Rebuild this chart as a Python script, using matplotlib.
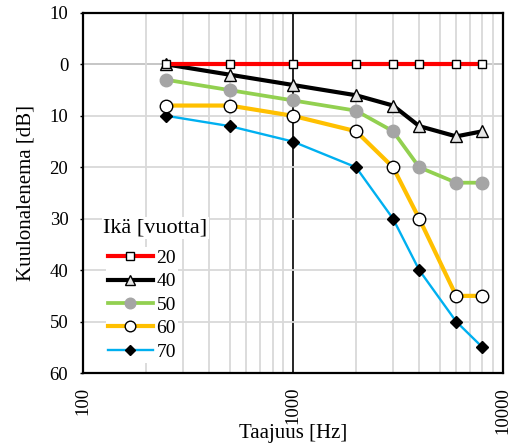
import numpy as np
import matplotlib.pyplot as plt
from matplotlib.ticker import FuncFormatter, FixedLocator, LogLocator, NullFormatter

plt.rcParams['font.family'] = ['Liberation Serif', 'DejaVu Serif']

freq = [250, 500, 1000, 2000, 3000, 4000, 6000, 8000]
ages = ["20", "40", "50", "60", "70"]
loss_20 = [0, 0, 0, 0, 0, 0, 0, 0]
loss_40 = [0, 2, 4, 6, 8, 12, 14, 13]
loss_50 = [3, 5, 7, 9, 13, 20, 23, 23]
loss_60 = [8, 8, 10, 13, 20, 30, 45, 45]
loss_70 = [10, 12, 15, 20, 30, 40, 50, 55]

fig = plt.figure(figsize=(5.12, 4.47), dpi=100)
ax = fig.add_axes([0.162, 0.1655, 0.820, 0.8055])

ax.set_xscale('log')
ax.set_xlim(100, 10000)
ax.set_ylim(60, -10)

# grid
ax.xaxis.set_minor_locator(LogLocator(base=10, subs=np.arange(2, 10)))
ax.xaxis.set_minor_formatter(NullFormatter())
ax.grid(True, which='minor', axis='x', color='#d9d9d9', lw=1.3, zorder=0)
ax.grid(True, which='major', axis='y', color='#d9d9d9', lw=1.3, zorder=0)
ax.axvline(1000, color='black', lw=1.2, zorder=1)
ax.axhline(0, color='black', lw=1.2, zorder=1)

ax.plot(freq, loss_20, color='#ff0000', lw=3, marker='s', ms=6, mfc='white',
        mec='black', mew=1, label=ages[0], zorder=7)
ax.plot(freq, loss_40, color='black', lw=3, marker='^', ms=8, mfc='#e6e6e6',
        mec='black', mew=1, label=ages[1], zorder=6)
ax.plot(freq, loss_50, color='#92d050', lw=2.7, marker='o', ms=9, mfc='#a5a5a5',
        mec='#a5a5a5', mew=1, label=ages[2], zorder=5)
ax.plot(freq, loss_60, color='#ffc000', lw=3, marker='o', ms=9, mfc='white',
        mec='black', mew=1, label=ages[3], zorder=4)
ax.plot(freq, loss_70, color='#00b0f0', lw=1.7, marker='D', ms=6.5, mfc='black',
        mec='black', mew=1, label=ages[4], zorder=3)

ax.xaxis.set_major_locator(FixedLocator([100, 1000, 10000]))
ax.xaxis.set_major_formatter(FuncFormatter(lambda v, p: '%d' % v))
ax.set_yticks(np.arange(-10, 61, 10))
ax.yaxis.set_major_formatter(FuncFormatter(lambda v, p: '%d' % abs(v)))
ax.tick_params(axis='x', which='both', length=0, labelsize=13.5, labelrotation=90, pad=10)
ax.tick_params(axis='y', length=2.5, width=1, labelsize=13.5, pad=8)

for s in ax.spines.values():
    s.set_color('black')
    s.set_linewidth(1.6)

ax.set_xlabel('Taajuus [Hz]', fontsize=15)
ax.xaxis.set_label_coords(0.5, -0.141)
ax.set_ylabel('Kuulonalenema [dB]', fontsize=15)
ax.yaxis.set_label_coords(-0.112, 0.5)

# legend title drawn separately so entries can sit indented under it
ax.text(0.048, 0.403, 'Ikä [vuotta]', transform=ax.transAxes, fontsize=16,
        ha='left', va='center', zorder=10,
        bbox=dict(facecolor='white', edgecolor='none', pad=1))
leg = ax.legend(loc='upper left', bbox_to_anchor=(0.055, 0.349),
                fontsize=14, frameon=True, fancybox=False,
                edgecolor='none', framealpha=1, handlelength=2.3, handletextpad=0.2,
                labelspacing=0.3, borderpad=0.1, borderaxespad=0, markerscale=0.85)
leg.set_zorder(10)

fig.savefig('out.png', dpi=100)
